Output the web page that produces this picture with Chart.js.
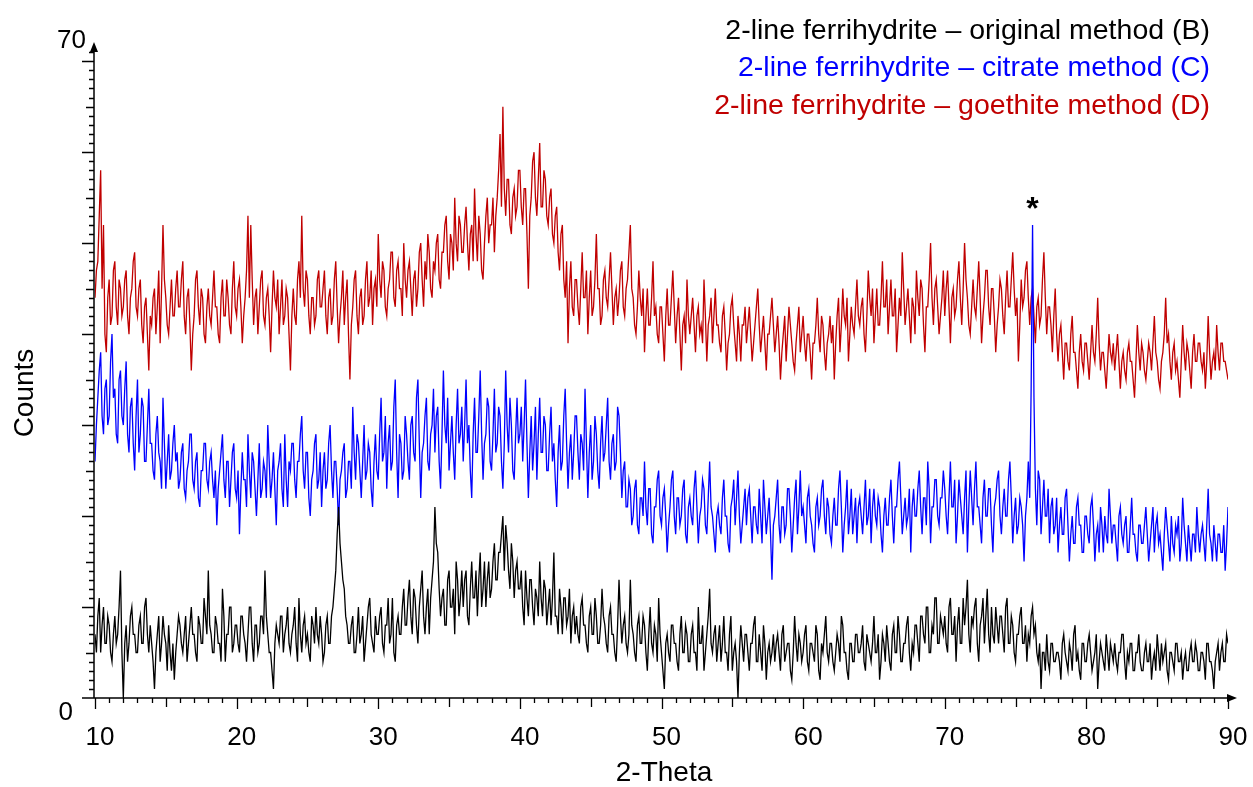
<!DOCTYPE html>
<html>
<head>
<meta charset="utf-8">
<script src="https://cdn.jsdelivr.net/npm/chart.js@4.4.1/dist/chart.umd.min.js"></script>
<style>
    html, body { margin: 0; padding: 0; background: #fff; }
    #wrap { width: 1253px; height: 787px; position: relative; }
</style>
</head>
<body>
<div id="wrap"><canvas id="xrdChart"></canvas></div>
<script>
// 2-theta sampling grid of the scans (degrees)
const thetaStart = 10;
const thetaStep = 0.1;

// Counts, one value per 0.1 degree, one row per 2 degrees
const countsB = [
    7, 5, 9, 11, 5, 8, 10, 6, 6, 9, 8, 5, 4, 7, 9, 6, 7, 10, 14, 5,
    0, 6, 8, 4, 6, 9, 10, 7, 7, 5, 5, 8, 9, 6, 6, 10, 11, 7, 5, 8,
    6, 4, 1, 5, 7, 9, 4, 6, 9, 7, 6, 3, 8, 5, 3, 6, 2, 5, 7, 9,
    8, 6, 5, 7, 9, 4, 6, 8, 10, 7, 7, 5, 4, 9, 8, 6, 6, 11, 9, 7,
    14, 8, 7, 5, 5, 9, 8, 6, 6, 4, 12, 9, 4, 7, 7, 10, 10, 5, 6, 8,
    8, 6, 5, 9, 9, 7, 6, 4, 7, 10, 10, 6, 4, 8, 8, 5, 6, 9, 9, 7,
    14, 9, 7, 5, 5, 3, 1, 6, 8, 7, 6, 9, 9, 5, 7, 8, 10, 6, 5, 7,
    8, 10, 6, 4, 11, 7, 5, 8, 9, 6, 7, 5, 4, 9, 8, 6, 10, 7, 6, 9,
    7, 4, 5, 8, 9, 6, 6, 9, 10, 12, 14, 18, 21, 17, 15, 13, 12, 9, 8, 6,
    6, 8, 9, 5, 5, 7, 10, 6, 7, 9, 4, 6, 8, 10, 11, 7, 6, 5, 9, 7,
    7, 9, 10, 6, 5, 8, 8, 11, 6, 7, 11, 5, 4, 8, 9, 7, 7, 10, 12, 8,
    8, 11, 13, 9, 7, 12, 11, 8, 6, 10, 12, 14, 9, 7, 10, 12, 7, 11, 13, 15,
    21, 17, 16, 12, 9, 11, 12, 8, 8, 13, 14, 10, 10, 12, 7, 15, 13, 9, 11, 14,
    10, 13, 14, 9, 8, 12, 15, 11, 11, 14, 9, 13, 16, 10, 12, 15, 10, 13, 15, 11,
    12, 15, 17, 13, 13, 16, 16, 18, 20, 14, 19, 17, 14, 12, 17, 15, 11, 14, 15, 12,
    12, 14, 10, 8, 14, 11, 9, 13, 13, 10, 8, 12, 11, 9, 15, 11, 9, 13, 12, 8,
    10, 12, 8, 11, 16, 9, 9, 7, 12, 10, 7, 11, 11, 8, 9, 12, 6, 9, 10, 7,
    9, 7, 6, 10, 11, 8, 8, 6, 5, 9, 10, 7, 7, 11, 9, 6, 6, 8, 12, 9,
    8, 6, 5, 9, 10, 7, 7, 5, 4, 8, 13, 9, 6, 8, 9, 6, 5, 7, 13, 8,
    7, 5, 4, 8, 9, 6, 6, 9, 8, 5, 3, 7, 10, 6, 5, 8, 7, 4, 11, 7,
    5, 3, 1, 6, 7, 5, 4, 8, 8, 6, 6, 4, 3, 7, 9, 5, 5, 8, 7, 4,
    4, 7, 8, 5, 5, 3, 10, 6, 6, 8, 3, 5, 7, 9, 12, 6, 5, 7, 8, 4,
    6, 8, 4, 6, 9, 5, 5, 3, 7, 9, 3, 5, 6, 4, 0, 5, 8, 6, 4, 7,
    7, 5, 3, 6, 6, 8, 9, 4, 4, 7, 5, 3, 8, 6, 2, 5, 6, 4, 5, 7,
    4, 6, 7, 5, 3, 7, 8, 4, 5, 6, 6, 3, 2, 5, 9, 6, 4, 7, 6, 4,
    5, 7, 8, 4, 3, 6, 6, 5, 4, 8, 7, 3, 2, 6, 5, 7, 9, 5, 4, 6,
    6, 4, 3, 5, 7, 6, 4, 9, 8, 5, 5, 3, 2, 6, 6, 4, 4, 7, 7, 5,
    5, 6, 8, 4, 3, 7, 6, 5, 4, 6, 9, 5, 5, 7, 2, 4, 7, 6, 4, 8,
    6, 4, 3, 7, 8, 5, 5, 9, 7, 4, 4, 6, 6, 8, 9, 5, 3, 6, 5, 8,
    8, 6, 4, 9, 9, 7, 6, 10, 10, 5, 5, 8, 7, 11, 11, 6, 6, 9, 8, 7,
    9, 6, 5, 10, 11, 7, 7, 9, 4, 8, 10, 6, 6, 11, 8, 10, 13, 7, 5, 9,
    8, 10, 11, 6, 4, 8, 9, 11, 6, 9, 12, 7, 5, 10, 7, 6, 10, 8, 6, 9,
    9, 7, 5, 10, 11, 6, 6, 9, 8, 5, 4, 7, 7, 9, 10, 6, 6, 8, 4, 7,
    6, 9, 10, 7, 8, 5, 4, 6, 1, 5, 5, 3, 7, 4, 3, 6, 6, 4, 4, 5,
    5, 4, 2, 6, 7, 5, 4, 3, 6, 5, 3, 7, 8, 4, 5, 3, 2, 6, 6, 4,
    4, 6, 7, 5, 3, 4, 5, 7, 1, 4, 6, 5, 4, 3, 7, 5, 3, 6, 5, 4,
    6, 4, 3, 5, 5, 7, 7, 4, 2, 5, 4, 6, 6, 3, 3, 5, 5, 7, 4, 3,
    3, 5, 6, 4, 4, 6, 2, 4, 5, 3, 7, 5, 3, 6, 4, 5, 6, 3, 2, 5,
    5, 4, 3, 6, 6, 4, 4, 5, 2, 4, 5, 3, 3, 5, 6, 4, 4, 6, 5, 3,
    3, 5, 5, 4, 2, 6, 6, 4, 4, 3, 1, 4, 5, 6, 3, 5, 6, 4, 4, 7,
    6
];

const countsC = [
    26, 30, 33, 36, 38, 31, 29, 34, 35, 30, 31, 37, 40, 33, 34, 29, 28, 35, 36, 31,
    30, 34, 37, 29, 27, 32, 33, 28, 25, 31, 35, 27, 29, 33, 32, 26, 26, 30, 34, 28,
    28, 25, 24, 29, 31, 27, 26, 23, 33, 28, 23, 26, 29, 24, 25, 28, 30, 26, 27, 23,
    24, 27, 28, 23, 22, 25, 26, 29, 29, 24, 23, 26, 27, 22, 21, 25, 25, 28, 28, 24,
    23, 26, 27, 24, 22, 25, 19, 23, 25, 27, 29, 24, 22, 26, 26, 21, 24, 27, 28, 23,
    22, 25, 18, 23, 27, 24, 24, 21, 29, 25, 22, 27, 26, 23, 20, 24, 28, 22, 23, 26,
    25, 22, 30, 26, 22, 24, 27, 23, 19, 25, 26, 28, 23, 21, 29, 24, 21, 26, 25, 28,
    28, 24, 22, 26, 26, 29, 31, 25, 23, 27, 27, 22, 20, 24, 25, 28, 29, 23, 24, 27,
    21, 25, 27, 23, 24, 28, 30, 25, 22, 26, 26, 23, 19, 24, 25, 27, 28, 22, 23, 26,
    26, 23, 32, 27, 24, 29, 28, 25, 22, 26, 30, 24, 25, 28, 27, 23, 21, 26, 29, 25,
    24, 29, 33, 26, 27, 31, 23, 28, 30, 25, 26, 32, 35, 27, 22, 29, 28, 24, 25, 31,
    29, 26, 24, 30, 31, 27, 26, 33, 35, 28, 22, 27, 28, 31, 33, 26, 25, 29, 30, 34,
    27, 31, 32, 26, 23, 29, 36, 30, 28, 33, 25, 28, 31, 27, 24, 30, 34, 28, 29, 32,
    26, 30, 35, 28, 30, 25, 22, 29, 33, 27, 27, 31, 36, 29, 24, 28, 29, 33, 32, 26,
    25, 29, 34, 27, 28, 32, 31, 26, 23, 28, 36, 30, 27, 33, 30, 25, 24, 29, 33, 28,
    29, 32, 26, 30, 35, 28, 22, 27, 31, 25, 28, 32, 24, 29, 33, 27, 27, 31, 30, 25,
    25, 29, 32, 26, 28, 24, 21, 27, 30, 25, 26, 31, 34, 28, 23, 27, 29, 24, 27, 31,
    31, 27, 24, 29, 28, 25, 34, 28, 22, 27, 30, 24, 26, 31, 29, 25, 23, 28, 31, 26,
    27, 30, 33, 26, 24, 28, 29, 25, 26, 32, 31, 27, 22, 25, 26, 21, 21, 24, 23, 19,
    20, 23, 24, 19, 18, 22, 22, 20, 26, 21, 19, 23, 23, 18, 17, 21, 21, 24, 25, 20,
    19, 22, 23, 20, 16, 19, 21, 24, 25, 20, 18, 22, 22, 19, 20, 23, 24, 18, 17, 21,
    22, 20, 19, 23, 25, 21, 17, 20, 21, 24, 23, 19, 18, 22, 26, 21, 20, 18, 16, 20,
    21, 19, 18, 22, 24, 20, 20, 17, 16, 21, 22, 24, 19, 22, 25, 20, 17, 19, 21, 23,
    19, 22, 23, 20, 17, 21, 21, 19, 18, 23, 20, 17, 24, 21, 18, 20, 22, 18, 13, 19,
    20, 22, 24, 19, 17, 21, 21, 18, 19, 23, 23, 20, 16, 19, 22, 24, 18, 21, 25, 20,
    21, 19, 17, 22, 23, 20, 19, 17, 16, 21, 22, 19, 20, 23, 24, 20, 18, 22, 21, 18,
    17, 20, 22, 19, 19, 23, 25, 21, 16, 19, 21, 24, 18, 20, 23, 18, 20, 22, 17, 21,
    22, 20, 18, 21, 24, 19, 20, 23, 17, 21, 23, 20, 19, 22, 21, 18, 16, 20, 22, 19,
    19, 22, 24, 20, 17, 21, 21, 24, 26, 22, 18, 20, 22, 19, 20, 23, 16, 21, 23, 20,
    20, 23, 25, 21, 18, 22, 22, 19, 26, 23, 17, 21, 21, 24, 24, 20, 19, 22, 22, 25,
    23, 20, 18, 22, 26, 21, 21, 24, 17, 20, 24, 22, 20, 18, 22, 25, 16, 21, 25, 22,
    19, 23, 26, 21, 21, 19, 17, 22, 24, 20, 20, 23, 23, 19, 16, 21, 22, 24, 25, 20,
    18, 21, 23, 20, 20, 24, 26, 22, 17, 20, 22, 18, 19, 22, 21, 19, 15, 20, 22, 26,
    22, 34, 52, 33, 23, 19, 25, 24, 18, 21, 24, 20, 20, 23, 17, 21, 22, 18, 19, 22,
    16, 19, 21, 18, 18, 22, 23, 19, 15, 18, 20, 17, 17, 21, 22, 19, 19, 16, 16, 20,
    20, 18, 17, 21, 22, 19, 15, 18, 19, 16, 21, 19, 16, 20, 18, 17, 23, 20, 17, 19,
    19, 17, 15, 20, 21, 18, 17, 19, 20, 16, 16, 19, 22, 18, 18, 16, 15, 19, 19, 17,
    17, 19, 21, 18, 15, 17, 19, 21, 16, 19, 20, 17, 18, 16, 14, 18, 21, 19, 17, 15,
    20, 17, 16, 19, 18, 20, 15, 17, 22, 19, 17, 15, 19, 17, 15, 18, 18, 16, 21, 18,
    16, 18, 19, 17, 15, 19, 23, 18, 17, 15, 19, 17, 15, 18, 18, 16, 16, 19, 14, 17,
    21
];

const countsD = [
    44, 47, 48, 53, 58, 45, 52, 40, 38, 44, 46, 41, 42, 47, 48, 43, 41, 46, 45, 42,
    43, 46, 47, 42, 40, 44, 45, 48, 49, 43, 42, 45, 46, 41, 39, 43, 44, 40, 36, 42,
    41, 44, 45, 40, 43, 47, 39, 45, 52, 46, 44, 41, 40, 43, 46, 42, 42, 45, 47, 43,
    43, 46, 48, 42, 40, 44, 45, 41, 36, 40, 42, 46, 47, 43, 41, 45, 44, 40, 39, 43,
    45, 42, 41, 44, 47, 43, 43, 40, 39, 44, 46, 42, 42, 46, 44, 41, 40, 45, 48, 43,
    42, 45, 46, 43, 39, 42, 44, 47, 53, 44, 52, 46, 41, 44, 45, 40, 43, 46, 47, 42,
    41, 44, 45, 42, 38, 43, 47, 44, 43, 46, 40, 43, 46, 41, 42, 45, 44, 40, 36, 42,
    45, 42, 41, 46, 48, 44, 53, 45, 43, 47, 46, 42, 40, 44, 44, 41, 42, 46, 47, 43,
    43, 45, 47, 42, 40, 44, 45, 41, 42, 46, 48, 43, 39, 42, 44, 47, 41, 44, 46, 40,
    35, 41, 43, 46, 47, 42, 40, 44, 45, 41, 42, 46, 48, 43, 44, 47, 41, 45, 46, 43,
    51, 46, 44, 48, 47, 43, 42, 45, 46, 49, 49, 44, 43, 47, 48, 45, 45, 42, 50, 46,
    44, 47, 48, 45, 42, 46, 47, 43, 45, 49, 50, 46, 43, 48, 46, 51, 49, 45, 44, 48,
    47, 50, 51, 46, 45, 49, 49, 52, 53, 48, 46, 51, 50, 47, 55, 50, 48, 53, 52, 49,
    49, 52, 54, 50, 47, 51, 52, 48, 56, 51, 48, 53, 51, 47, 46, 50, 53, 55, 50, 52,
    52, 55, 49, 53, 55, 58, 62, 54, 65, 56, 53, 57, 57, 52, 51, 55, 56, 53, 54, 58,
    58, 54, 52, 56, 56, 51, 45, 53, 55, 59, 60, 55, 53, 57, 61, 54, 54, 58, 57, 53,
    52, 55, 56, 51, 50, 53, 54, 49, 47, 51, 52, 46, 44, 48, 39, 45, 48, 43, 42, 46,
    46, 43, 41, 45, 49, 44, 44, 47, 40, 44, 47, 42, 43, 46, 51, 45, 45, 41, 42, 46,
    47, 44, 43, 46, 49, 45, 41, 44, 45, 42, 44, 47, 48, 43, 42, 45, 46, 49, 52, 45,
    44, 41, 40, 43, 47, 44, 42, 45, 38, 42, 45, 41, 41, 44, 48, 42, 43, 40, 39, 43,
    43, 40, 37, 42, 45, 41, 41, 44, 47, 43, 39, 42, 44, 40, 36, 41, 42, 39, 46, 42,
    40, 42, 44, 41, 38, 42, 43, 40, 41, 39, 46, 42, 37, 41, 42, 44, 39, 42, 45, 41,
    41, 39, 38, 42, 43, 40, 36, 39, 40, 43, 44, 41, 39, 37, 42, 40, 37, 41, 41, 43,
    39, 41, 43, 40, 37, 39, 41, 43, 45, 41, 38, 40, 42, 39, 36, 40, 40, 42, 44, 41,
    38, 40, 42, 39, 35, 38, 40, 42, 37, 40, 43, 41, 39, 37, 36, 39, 41, 43, 38, 40,
    42, 39, 37, 40, 40, 38, 35, 39, 39, 41, 44, 40, 38, 42, 41, 38, 36, 39, 40, 42,
    39, 41, 35, 39, 42, 44, 38, 41, 45, 42, 41, 44, 37, 40, 43, 41, 40, 43, 46, 42,
    41, 43, 44, 40, 38, 42, 47, 44, 42, 45, 39, 42, 45, 41, 41, 44, 48, 43, 43, 46,
    40, 43, 46, 42, 42, 45, 38, 41, 44, 42, 49, 45, 41, 43, 45, 42, 39, 44, 43, 40,
    47, 44, 42, 46, 45, 41, 38, 43, 43, 46, 50, 44, 41, 45, 46, 43, 40, 42, 44, 47,
    42, 45, 47, 43, 39, 44, 45, 42, 43, 46, 48, 44, 41, 45, 50, 46, 44, 41, 40, 43,
    46, 43, 42, 45, 48, 44, 39, 42, 44, 47, 47, 43, 41, 45, 45, 42, 38, 41, 43, 46,
    45, 42, 40, 44, 47, 43, 43, 46, 49, 45, 42, 44, 37, 41, 46, 43, 44, 47, 48, 44,
    41, 44, 45, 42, 39, 43, 44, 41, 42, 46, 49, 44, 40, 43, 43, 41, 38, 42, 45, 40,
    37, 40, 41, 38, 35, 39, 39, 37, 36, 40, 42, 38, 38, 36, 34, 38, 40, 37, 36, 39,
    39, 37, 35, 38, 41, 38, 37, 40, 44, 39, 36, 38, 38, 36, 34, 37, 40, 38, 37, 39,
    36, 38, 40, 37, 34, 37, 38, 36, 35, 38, 39, 37, 37, 35, 33, 37, 41, 38, 36, 39,
    38, 36, 35, 37, 39, 38, 36, 39, 42, 38, 37, 35, 34, 37, 38, 40, 44, 39, 40, 37,
    35, 38, 39, 36, 37, 35, 33, 37, 41, 38, 36, 39, 38, 36, 34, 38, 40, 37, 37, 39,
    39, 37, 36, 38, 34, 37, 42, 38, 35, 37, 38, 36, 41, 38, 36, 39, 39, 37, 37, 36,
    35
];

const seriesNames = [
    '2-line ferrihydrite \u2013 original method (B)',
    '2-line ferrihydrite \u2013 citrate method (C)',
    '2-line ferrihydrite \u2013 goethite method (D)'
];
const seriesColors = ['#000000', '#0000ff', '#c00000'];

const xTickLabels = [10, 20, 30, 40, 50, 60, 70, 80, 90];
const yTickLabels = [0, 70];
const xMin = 10, xMax = 90;
const yMin = 0, yMax = 72;
const peakMark = { theta: 76.2, counts: 52, text: '*' };

const FONT = "'Liberation Sans', Arial, sans-serif";

function toPoints(counts) {
    return counts.map((c, i) => ({ x: thetaStart + i * thetaStep, y: c }));
}

// Axes, ticks, labels and legend drawn in the look of the diffractometer software
const xrdDecor = {
    id: 'xrdDecor',
    afterDraw(chart) {
        const ctx = chart.ctx;
        const xs = chart.scales.x;
        const ys = chart.scales.y;
        const ax = xs.getPixelForValue(xMin) - 1;
        const ay = ys.getPixelForValue(0);
        const top = ys.getPixelForValue(yMax);
        const right = xs.getPixelForValue(xMax) + 6;

        ctx.save();
        ctx.strokeStyle = '#000';
        ctx.fillStyle = '#000';
        ctx.lineWidth = 1.5;

        // axis lines
        ctx.beginPath();
        ctx.moveTo(ax - 12, ay);
        ctx.lineTo(right, ay);
        ctx.moveTo(ax, ay);
        ctx.lineTo(ax, top + 6);
        ctx.stroke();

        // arrow heads
        ctx.beginPath();
        ctx.moveTo(right + 3, ay);
        ctx.lineTo(right - 7, ay - 4);
        ctx.lineTo(right - 7, ay + 4);
        ctx.closePath();
        ctx.fill();
        ctx.beginPath();
        ctx.moveTo(ax, top - 1);
        ctx.lineTo(ax - 4, top + 9);
        ctx.lineTo(ax + 4, top + 9);
        ctx.closePath();
        ctx.fill();

        // x ticks, pointing down
        ctx.lineWidth = 1.3;
        ctx.beginPath();
        for (let v = xMin; v <= xMax; v++) {
            const px = Math.round(xs.getPixelForValue(v)) + 0.5;
            const len = v % 10 === 0 ? 11 : (v % 5 === 0 ? 9 : 5);
            ctx.moveTo(px, ay);
            ctx.lineTo(px, ay + len);
        }
        // y ticks, pointing left
        for (let v = 1; v <= yMax - 1; v++) {
            const py = Math.round(ys.getPixelForValue(v)) + 0.5;
            const len = v % 10 === 0 ? 12 : (v % 5 === 0 ? 8 : 5);
            ctx.moveTo(ax, py);
            ctx.lineTo(ax - len, py);
        }
        ctx.stroke();

        // tick labels
        ctx.font = '26px ' + FONT;
        ctx.textAlign = 'center';
        ctx.textBaseline = 'middle';
        xTickLabels.forEach(v => {
            ctx.fillText(String(v), xs.getPixelForValue(v) + 5, ay + 40);
        });
        ctx.textAlign = 'right';
        ctx.fillText(String(yTickLabels[0]), ax - 21, ay + 15);
        ctx.fillText(String(yTickLabels[1]), ax - 8, top - 2);

        // axis titles
        ctx.font = '28px ' + FONT;
        ctx.textAlign = 'center';
        ctx.fillText('2-Theta', (ax + right) / 2, 773);
        ctx.save();
        ctx.translate(25, 393);
        ctx.rotate(-Math.PI / 2);
        ctx.fillText('Counts', 0, 0);
        ctx.restore();

        // legend, right aligned
        ctx.font = '28.5px ' + FONT;
        ctx.textAlign = 'right';
        seriesNames.forEach((name, i) => {
            ctx.fillStyle = seriesColors[i];
            ctx.fillText(name, 1210, 31 + i * 37.5);
        });

        // peak marker
        ctx.fillStyle = '#000';
        ctx.font = 'bold 32px ' + FONT;
        ctx.textAlign = 'center';
        ctx.fillText(peakMark.text, xs.getPixelForValue(peakMark.theta), ys.getPixelForValue(peakMark.counts) - 15);

        ctx.restore();
    }
};

new Chart(document.getElementById('xrdChart').getContext('2d'), {
    type: 'line',
    data: {
        datasets: [countsB, countsC, countsD].map((counts, i) => ({
            label: seriesNames[i],
            data: toPoints(counts),
            borderColor: seriesColors[i],
            borderWidth: 1.3,
            pointRadius: 0,
            tension: 0,
            fill: false
        }))
    },
    options: {
        responsive: true,
        maintainAspectRatio: false,
        animation: false,
        devicePixelRatio: 1,
        layout: { padding: { left: 95, right: 25, top: 43, bottom: 89 } },
        plugins: {
            legend: { display: false },
            tooltip: { enabled: false }
        },
        scales: {
            x: { type: 'linear', min: xMin, max: xMax, display: false },
            y: { type: 'linear', min: yMin, max: yMax, display: false }
        }
    },
    plugins: [xrdDecor]
});
</script>
</body>
</html>
